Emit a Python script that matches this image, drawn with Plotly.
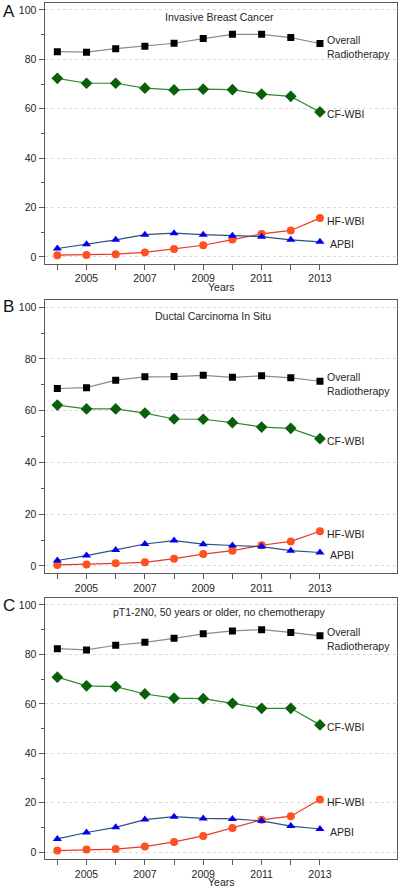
import plotly.graph_objects as go

years = [2004, 2005, 2006, 2007, 2008, 2009, 2010, 2011, 2012, 2013]
tick_labels = ["", "2005", "", "2007", "", "2009", "", "2011", "", "2013"]

panel_titles = ["Invasive Breast Cancer", "Ductal Carcinoma In Situ",
                "pT1-2N0, 50 years or older, no chemotherapy"]
panel_letters = ["A", "B", "C"]

# Panel A - Invasive Breast Cancer
overall_a = [83.1, 82.9, 84.3, 85.3, 86.5, 88.4, 90.1, 90.1, 88.8, 86.4]
cfwbi_a = [72.3, 70.3, 70.3, 68.3, 67.6, 67.9, 67.7, 65.9, 65.0, 58.7]
hfwbi_a = [0.7, 0.8, 1.1, 1.8, 3.2, 4.7, 7.0, 9.3, 10.7, 15.7]
apbi_a = [3.4, 5.1, 6.9, 9.0, 9.6, 9.0, 8.6, 8.2, 6.9, 6.1]

# Panel B - Ductal Carcinoma In Situ
overall_b = [68.6, 68.9, 71.8, 73.1, 73.2, 73.7, 72.9, 73.5, 72.7, 71.4]
cfwbi_b = [62.2, 60.7, 60.7, 59.1, 56.8, 56.7, 55.4, 53.7, 53.2, 49.2]
hfwbi_b = [0.4, 0.6, 1.0, 1.4, 2.8, 4.6, 5.9, 8.0, 9.5, 13.4]
apbi_b = [2.1, 4.0, 6.2, 8.5, 9.8, 8.4, 7.9, 7.5, 5.9, 5.2]

# Panel C - pT1-2N0, 50 years or older, no chemotherapy
overall_c = [82.3, 81.8, 83.7, 84.9, 86.5, 88.3, 89.5, 90.0, 88.9, 87.5]
cfwbi_c = [70.8, 67.3, 67.0, 64.0, 62.3, 62.1, 60.2, 58.2, 58.2, 51.5]
hfwbi_c = [0.7, 1.1, 1.3, 2.3, 4.2, 6.6, 9.8, 13.1, 14.6, 21.3]
apbi_c = [5.4, 8.0, 10.1, 13.2, 14.4, 13.7, 13.5, 12.7, 10.6, 9.4]

panels = [
    {"Overall": overall_a, "CF-WBI": cfwbi_a, "HF-WBI": hfwbi_a, "APBI": apbi_a},
    {"Overall": overall_b, "CF-WBI": cfwbi_b, "HF-WBI": hfwbi_b, "APBI": apbi_b},
    {"Overall": overall_c, "CF-WBI": cfwbi_c, "HF-WBI": hfwbi_c, "APBI": apbi_c},
]

styles = {
    "Overall": dict(line="#8a8a8a", marker="#000000", symbol="square", size=7),
    "CF-WBI": dict(line="#2e8b2e", marker="#0a5f0a", symbol="diamond", size=9),
    "HF-WBI": dict(line="#e8382a", marker="#ff5020", symbol="circle", size=8),
    "APBI": dict(line="#2f4f7f", marker="#0000ee", symbol="triangle-up", size=8),
}

W, H = 400, 888
FONT = "Liberation Sans, Arial, sans-serif"
TXT = "#262626"

# pixel boxes (top, bottom) of each panel
boxes = [(3, 263.8), (300, 573.2), (598, 859.2)]
x_left_px, x_right_px = 44.5, 397
yrange = [-2.8, 102.8]
xrange_ = [2003.56, 2015.64]

fig = go.Figure()
annotations = []

for i, data in enumerate(panels):
    k = "" if i == 0 else str(i + 1)
    xa, ya = "x" + k, "y" + k
    top, bot = boxes[i]
    for name in ["Overall", "CF-WBI", "HF-WBI", "APBI"]:
        st = styles[name]
        fig.add_trace(go.Scatter(
            x=years, y=data[name], mode="lines+markers", name=name,
            xaxis=xa, yaxis=ya, showlegend=False,
            line=dict(color=st["line"], width=1.2),
            marker=dict(color=st["marker"], symbol=st["symbol"], size=st["size"],
                        line=dict(width=0)),
        ))
    ax_common = dict(showline=True, linecolor="#5a5a5a", linewidth=1, mirror=True,
                     ticks="outside", ticklen=5, tickcolor="#5a5a5a",
                     tickfont=dict(family=FONT, size=10.5, color=TXT), zeroline=False)
    fig.layout["xaxis" + k] = dict(
        domain=[x_left_px / W, x_right_px / W], range=xrange_, anchor=ya,
        tickmode="array", tickvals=years, ticktext=tick_labels, showgrid=False,
        **ax_common)
    fig.layout["yaxis" + k] = dict(
        domain=[1 - bot / H, 1 - top / H], range=yrange, anchor=xa,
        tickmode="array", tickvals=[0, 20, 40, 60, 80, 100],
        showgrid=True, gridcolor="#dadada", griddash="dot", gridwidth=1,
        minor=dict(tickvals=[10, 30, 50, 70, 90], ticks="outside", ticklen=3,
                   tickcolor="#5a5a5a", showgrid=False),
        **ax_common)

    # panel title
    title_y = [16.7, 315.7, 612.3][i]
    title_x = [219, 213, 219][i]
    annotations.append(dict(xref="paper", yref="paper", x=title_x / W, y=1 - title_y / H,
                            text=panel_titles[i], showarrow=False, xanchor="center",
                            yanchor="middle", font=dict(family=FONT, size=10.5, color=TXT)))
    # panel letter
    letter_y = [11.7, 307, 605][i]
    annotations.append(dict(xref="paper", yref="paper", x=8.5 / W, y=1 - letter_y / H,
                            text=panel_letters[i], showarrow=False, xanchor="center",
                            yanchor="middle", font=dict(family=FONT, size=17, color="#111")))
    # series labels
    lab_font = dict(family=FONT, size=10.5, color=TXT)
    last = {n: data[n][-1] for n in data}
    annotations.append(dict(xref=xa, yref=ya, x=years[-1], y=last["Overall"],
                            text="Overall<br>Radiotherapy", align="left",
                            showarrow=False, xanchor="left", yanchor="middle",
                            xshift=5, yshift=-3, font=lab_font))
    for n, xs in [("CF-WBI", 5), ("HF-WBI", 5), ("APBI", 8)]:
        annotations.append(dict(xref=xa, yref=ya, x=years[-1], y=last[n], text=n,
                                showarrow=False, xanchor="left", yanchor="middle",
                                xshift=xs, yshift=-2.5, font=lab_font))
    if i != 1:
        annotations.append(dict(xref=xa + " domain", yref=ya + " domain", x=0.5, y=0,
                                text="Years", showarrow=False, xanchor="center",
                                yanchor="middle", yshift=-23,
                                font=dict(family=FONT, size=10.5, color=TXT)))

fig.update_layout(
    width=W, height=H, margin=dict(l=0, r=0, t=0, b=0),
    paper_bgcolor="white", plot_bgcolor="white",
    annotations=annotations, showlegend=False,
)

fig.write_html("out.html", config={"displayModeBar": False},
               post_script="document.body.style.margin='0';document.body.style.overflow='hidden';")
